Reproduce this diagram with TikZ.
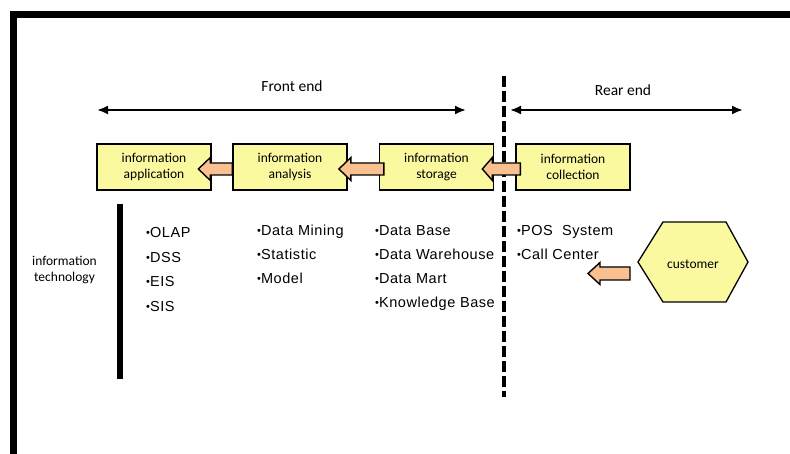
\documentclass[tikz,border=0pt]{standalone}
\usepackage{fontspec}
\setmainfont{Carlito}
\newfontfamily\arialf[LetterSpace=4]{Liberation Sans}
\usetikzlibrary{arrows.meta,calc}
\definecolor{boxyellow}{RGB}{250,249,160}
\definecolor{peach}{RGB}{250,192,144}
\newcommand\bul{{\fontsize{11}{11}\selectfont\raisebox{1.2pt}{•}}}
\newcommand\blockarr[5]{\draw[blockarrow] #1 ++(0,-#4) -- ++(-#2,0) -- ++(0,{-(#5-#4)}) -- ++(-#3,#5) -- ++(#3,#5) -- ++(0,{-(#5-#4)}) -- ++(#2,0) -- cycle;}
\tikzset{
  stagebox/.style={draw=black, line width=1.3pt, fill=boxyellow, minimum width=114pt,
    minimum height=46pt, inner sep=0pt, align=center, font=\fontsize{13.5}{16}\selectfont},
  blockarrow/.style={draw=black, line width=1.4pt, fill=peach, line join=miter},
  spanarrow/.style={line width=2pt, {Latex[length=11pt,width=9pt]}-{Latex[length=11pt,width=9pt]}},
  item/.style={anchor=base west, inner sep=0pt, font=\arialf\fontsize{14.5}{17}\selectfont},
  endlabel/.style={font=\fontsize{15.5}{18}\selectfont, inner sep=0pt},
  divider/.style={line width=3.5pt, dash pattern=on 11pt off 4pt},
}
\begin{document}
\begin{tikzpicture}[x=1pt,y=-1pt]
\useasboundingbox (0,0) rectangle (790,454);
% frame
\fill[black] (10,11) rectangle (790,18);
\fill[black] (10,11) rectangle (17,454);

% span arrows
\coordinate (fel) at (97,110);
\coordinate (fer) at (466,110);
\coordinate (rel) at (510,110);
\coordinate (rer) at (743,110);
\draw[spanarrow] (fel) -- (fer);
\draw[spanarrow] (rel) -- (rer);
\node[endlabel] (front) at (292,86) {Front end};
\node[endlabel] (rear) at (623,90) {Rear end};

% divider
\coordinate (dtop) at (504,76);
\coordinate (dbot) at (504,397);
\draw[divider] (dtop) -- (dbot);

% stage boxes
\node[stagebox] (b1) at (154,167) {information\\application};
\node[stagebox] (b2) at (290,167) {information\\analysis};
\node[stagebox] (b3) at (436.5,167) {information\\storage};
\node[stagebox] (b4) at (573,167) {information\\collection};

% block arrows
\blockarr{($(b2.west)+(0,2)$)}{22}{12}{6}{11.5}
\blockarr{($(b3.west)+(5,2)$)}{33}{12}{6}{11.5}
\blockarr{($(b4.west)+(5,2)$)}{28}{10}{6}{11.5}

% information technology
\node[align=center, font=\fontsize{13.5}{16}\selectfont, inner sep=0pt] (itlabel) at (64.5,270) {information\\technology};
\coordinate (bartop) at (120,204);
\coordinate (barbot) at (120,379);
\draw[line width=6pt] (bartop) -- (barbot);

% bullet columns
\foreach \t [count=\i] in {OLAP,DSS,EIS,SIS}
  \node[item] (ca\i) at (146,{238+24.5*(\i-1)}) {\bul\t};
\foreach \t [count=\i] in {Data Mining,Statistic,Model}
  \node[item] (cb\i) at (257,{236+24*(\i-1)}) {\bul\t};
\foreach \t [count=\i] in {Data Base,Data Warehouse,Data Mart,Knowledge Base}
  \node[item] (cc\i) at (375,{236+24*(\i-1)}) {\bul\t};
\node[item] (cd1) at (517,236) {\bul POS\ \ System};
\node[item] (cd2) at (517,260) {\bul Call Center};

% customer hexagon
\coordinate (custc) at (693,262);
\draw[draw=black, line width=1.3pt, fill=boxyellow, line join=miter]
  ($(custc)+(-55,0)$) -- ($(custc)+(-30,-40)$) -- ($(custc)+(33,-40)$) --
  ($(custc)+(55,0)$) -- ($(custc)+(33,40)$) -- ($(custc)+(-30,40)$) -- cycle;
\node[font=\fontsize{13.5}{16}\selectfont, inner sep=0pt] (cust) at ($(custc)+(0,2)$) {customer};
\blockarr{($(custc)+(-63,11.5)$)}{30}{12}{6.5}{11}
\end{tikzpicture}
\end{document}
